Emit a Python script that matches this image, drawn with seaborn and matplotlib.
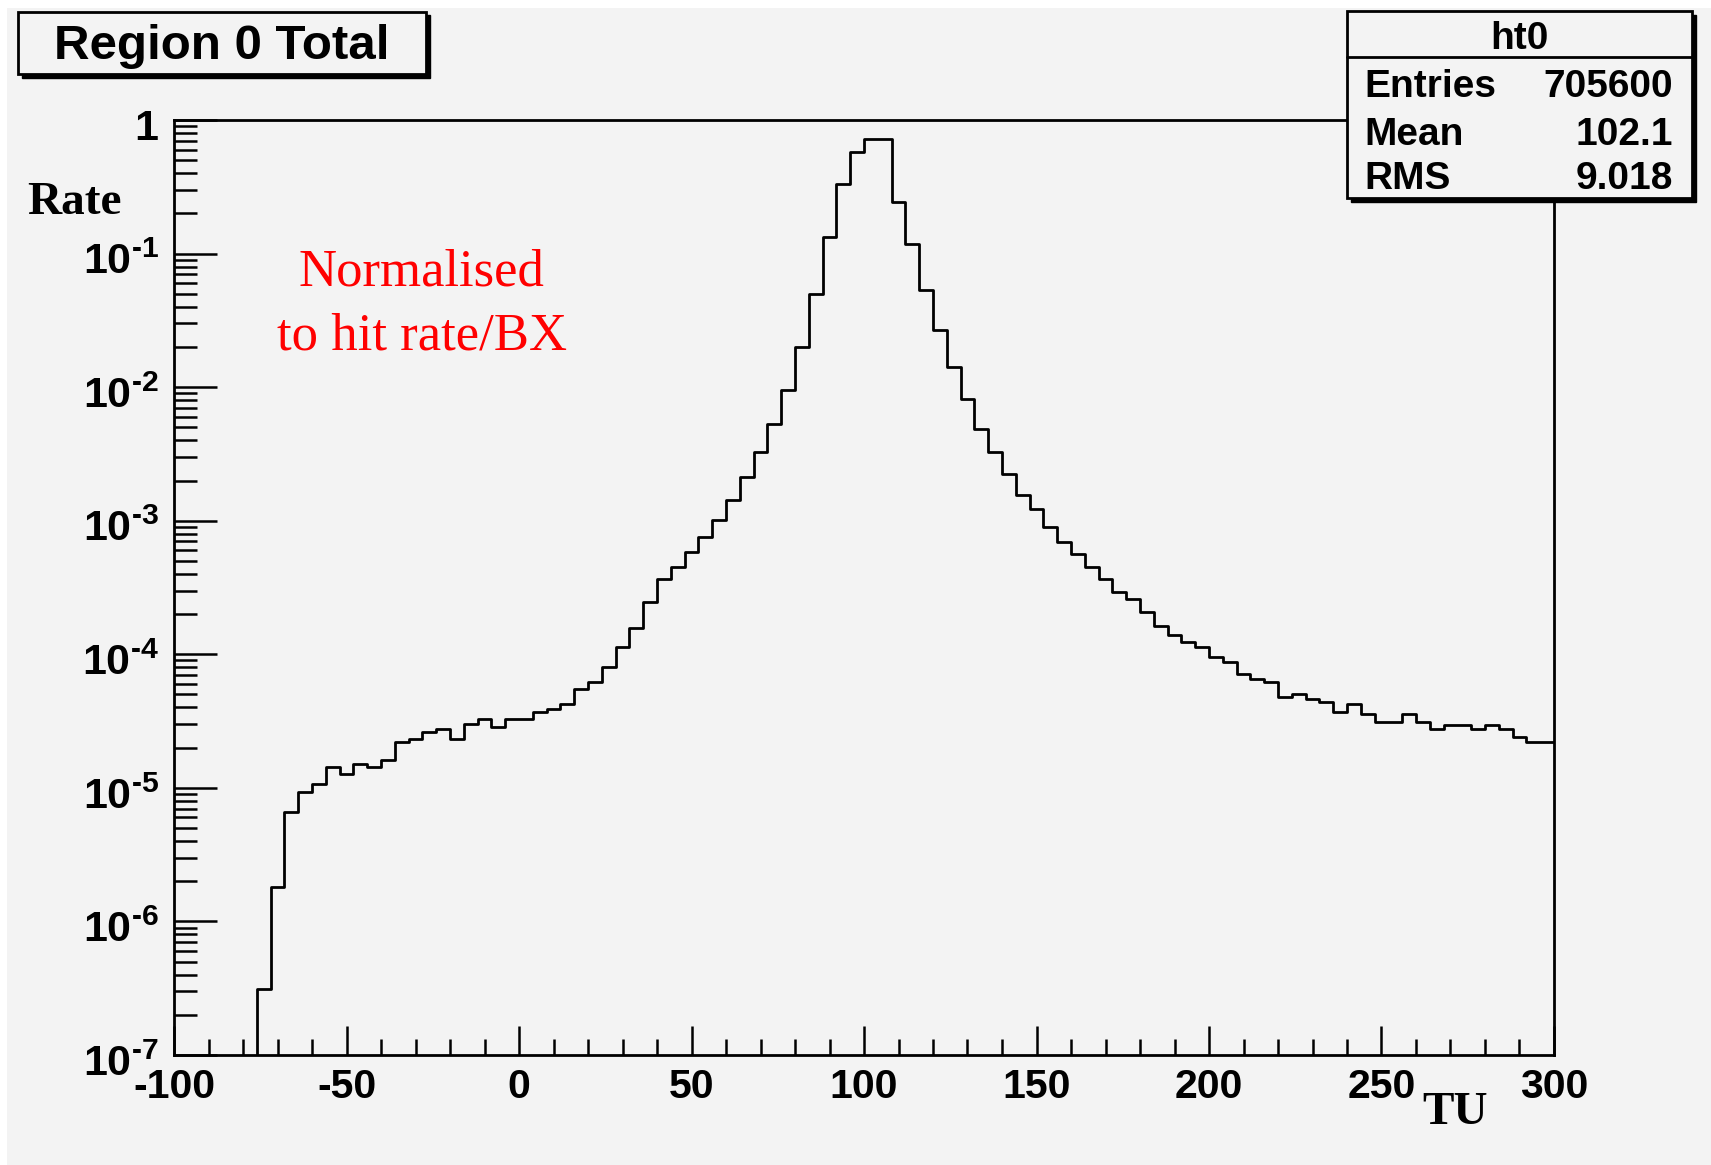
import numpy as np
import pandas as pd
import matplotlib
matplotlib.use("Agg")
import matplotlib.pyplot as plt
import matplotlib.transforms as mtransforms
import seaborn as sns
from matplotlib.patches import Rectangle
from matplotlib.lines import Line2D
from matplotlib.ticker import (MultipleLocator, LogLocator, FixedLocator, FuncFormatter,
                               NullFormatter)

# Histogram binning (TU), 100 bins of width 4
bin_lo, bin_hi, bin_w = -100, 300, 4
bin_edges = np.arange(bin_lo, bin_hi + 1, bin_w)

# Rate per bin, normalised to hit rate / BX
rate = [
    0, 0, 0, 0, 0, 0,                                   # -100 .. -80
    3.1e-7, 1.81e-6, 6.6e-6, 9.3e-6, 1.06e-5,           # -76 .. -60
    1.43e-5, 1.26e-5, 1.50e-5, 1.43e-5, 1.63e-5,        # -56 .. -40
    2.22e-5, 2.31e-5, 2.64e-5, 2.74e-5, 2.31e-5,        # -36 .. -20
    2.99e-5, 3.26e-5, 2.84e-5, 3.26e-5, 3.26e-5,        # -16 .. 0
    3.69e-5, 3.87e-5, 4.22e-5, 5.46e-5, 6.24e-5,        # 4 .. 20
    8.07e-5, 1.14e-4, 1.56e-4, 2.48e-4, 3.64e-4,        # 24 .. 40
    4.50e-4, 5.82e-4, 7.53e-4, 1.02e-3, 1.44e-3,        # 44 .. 60
    2.12e-3, 3.28e-3, 5.30e-3, 9.60e-3, 2.01e-2,        # 64 .. 80
    4.94e-2, 0.134, 0.329, 0.578, 0.715,                # 84 .. 100
    0.715, 0.243, 0.117, 0.0538, 0.0270,                # 104 .. 120
    0.0142, 8.1e-3, 4.82e-3, 3.28e-3, 2.22e-3,         # 124 .. 140
    1.56e-3, 1.22e-3, 9.0e-4, 6.92e-4, 5.6e-4,          # 144 .. 160
    4.5e-4, 3.64e-4, 2.92e-4, 2.58e-4, 2.07e-4,         # 164 .. 180
    1.64e-4, 1.39e-4, 1.23e-4, 1.13e-4, 9.53e-5,        # 184 .. 200
    8.75e-5, 7.08e-5, 6.49e-5, 6.2e-5, 4.82e-5,         # 204 .. 220
    5.0e-5, 4.6e-5, 4.38e-5, 3.69e-5, 4.22e-5,          # 224 .. 240
    3.55e-5, 3.11e-5, 3.11e-5, 3.55e-5, 3.11e-5,        # 244 .. 260
    2.74e-5, 2.95e-5, 2.95e-5, 2.74e-5, 2.95e-5,        # 264 .. 280
    2.74e-5, 2.40e-5, 2.20e-5, 2.20e-5,                 # 284 .. 296
]

y_decades = [1e-7, 1e-6, 1e-5, 1e-4, 1e-3, 1e-2, 1e-1, 1.0]

title_text = "Region 0 Total"
stats_name = "ht0"
stats_rows = [("Entries", "705600"), ("Mean", "102.1"), ("RMS", "9.018")]

df = pd.DataFrame({"TU": bin_edges[:-1] + bin_w / 2.0, "rate": rate})

W, H = 1711, 1165
BG = "#f3f3f3"
LW = 2.0

sns.set_theme(style="white")
plt.rcParams["font.family"] = ["Liberation Sans", "DejaVu Sans"]
plt.rcParams["font.weight"] = "bold"
plt.rcParams["text.color"] = "black"
plt.rcParams["axes.labelcolor"] = "black"
plt.rcParams["xtick.color"] = "black"
plt.rcParams["ytick.color"] = "black"
plt.rcParams["mathtext.fontset"] = "custom"
plt.rcParams["mathtext.rm"] = "Liberation Sans:bold"
plt.rcParams["mathtext.bf"] = "Liberation Sans:bold"
plt.rcParams["mathtext.it"] = "Liberation Sans:bold"

fig = plt.figure(figsize=(W / 100, H / 100), dpi=100, facecolor="white")


def fx(px):
    return px / W


def fy(py):
    return 1 - py / H


# canvas background (thin white margin on top/left)
fig.patches.append(Rectangle((fx(7), 0), 1 - fx(7), fy(8), transform=fig.transFigure,
                             facecolor=BG, edgecolor="none", zorder=-5))

L, R, T, B = 174, 1554, 120, 1055
ax = fig.add_axes([fx(L), fy(B), fx(R) - fx(L), fy(T) - fy(B)])
ax.set_facecolor(BG)
ax.set_zorder(1)

sns.histplot(data=df, x="TU", weights="rate", binwidth=bin_w, binrange=(bin_lo, bin_hi),
             element="step", fill=False, color="black", linewidth=LW, ax=ax)
ax.set_yscale("log")
ax.set_xlim(bin_lo, bin_hi)
ax.set_ylim(y_decades[0], y_decades[-1])
ax.set_xlabel("")
ax.set_ylabel("")

for s in ax.spines.values():
    s.set_visible(True)
    s.set_color("black")
    s.set_linewidth(LW)

ax.xaxis.set_major_locator(MultipleLocator(50))
ax.xaxis.set_minor_locator(MultipleLocator(10))
ax.xaxis.set_major_formatter(FuncFormatter(lambda v, p: "%d" % int(round(v))))
ax.yaxis.set_major_locator(FixedLocator(y_decades))
ax.yaxis.set_minor_locator(LogLocator(base=10, subs=np.arange(2, 10), numticks=20))
ax.yaxis.set_minor_formatter(NullFormatter())


def ylab(v, pos):
    e = int(round(np.log10(v)))
    if e == 0:
        return "1"
    sign = "\u2010" if e < 0 else ""
    return r"$\mathbf{10^{%s%d}}$" % (sign, abs(e))


ax.yaxis.set_major_formatter(FuncFormatter(ylab))

ax.tick_params(axis="y", which="major", direction="in", length=31, width=1.8,
               pad=11, labelsize=31, right=False, left=True, colors="black")
ax.tick_params(axis="y", which="minor", direction="in", length=16.5, width=1.8,
               right=False, left=True, colors="black")
ax.tick_params(axis="x", which="major", direction="in", length=21, width=1.8,
               pad=9, labelsize=29.5, top=False, bottom=True, colors="black")
ax.tick_params(axis="x", which="minor", direction="in", length=11.5, width=1.8,
               top=False, bottom=True, colors="black")

# y labels sit a little below their decade ticks
y_shift = mtransforms.ScaledTranslation(0, -5 / 100, fig.dpi_scale_trans)
for t in ax.yaxis.get_major_ticks(len(y_decades)):
    t.label1.set_transform(t.label1.get_transform() + y_shift)
for lab in ax.get_xticklabels() + ax.get_yticklabels():
    lab.set_fontweight("bold")

# axis titles
fig.text(fx(27), fy(214), "Rate", family=["Liberation Serif"], weight="bold",
         fontsize=34, ha="left", va="baseline", zorder=3)
fig.text(fx(1422), fy(1124), "TU", family=["Liberation Serif"], weight="bold",
         fontsize=34, ha="left", va="baseline", zorder=3)

# annotation
fig.text(fx(421), fy(286), "Normalised", family=["Liberation Serif"], weight="normal",
         fontsize=38, color="red", ha="center", va="baseline", zorder=3)
fig.text(fx(422), fy(349), "to hit rate/BX", family=["Liberation Serif"], weight="normal",
         fontsize=38, color="red", ha="center", va="baseline", zorder=3)


def shadow_box(x0, y0, x1, y1, off=3.5):
    fig.patches.append(Rectangle((fx(x0 + off), fy(y1 + off)), fx(x1 - x0), fy(y0) - fy(y1),
                                 transform=fig.transFigure, facecolor="black",
                                 edgecolor="black", linewidth=1.0, zorder=5))
    fig.patches.append(Rectangle((fx(x0), fy(y1)), fx(x1 - x0), fy(y0) - fy(y1),
                                 transform=fig.transFigure, facecolor=BG,
                                 edgecolor="black", linewidth=LW, zorder=6))


# title box
shadow_box(18, 12, 426, 74)
fig.text(fx(222), fy(59), title_text, fontsize=35.5, weight="bold", ha="center",
         va="baseline", zorder=7)

# statistics box
sx0, sy0, sx1, sy1 = 1347, 11, 1692, 198
shadow_box(sx0, sy0, sx1, sy1)
fig.lines.append(Line2D([fx(sx0), fx(sx1)], [fy(57), fy(57)], transform=fig.transFigure,
                        color="black", linewidth=LW, zorder=7))
fig.text(fx((sx0 + sx1) / 2), fy(49), stats_name, fontsize=28, weight="bold",
         ha="center", va="baseline", zorder=7)
for (name, val), base in zip(stats_rows, [97, 145, 189]):
    fig.text(fx(1364), fy(base), name, fontsize=28, weight="bold", ha="left",
             va="baseline", zorder=7)
    fig.text(fx(1673), fy(base), val, fontsize=28, weight="bold", ha="right",
             va="baseline", zorder=7)

fig.savefig("out.png", dpi=100, facecolor=fig.get_facecolor())
